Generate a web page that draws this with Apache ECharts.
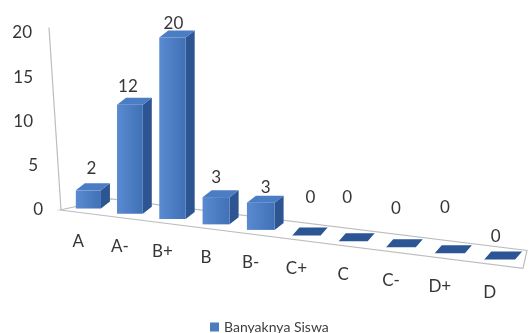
<!DOCTYPE html>
<html>
<head>
<meta charset="utf-8">
<script src="https://cdn.jsdelivr.net/npm/echarts@6/dist/echarts.min.js"></script>
<style>
  html, body { margin: 0; padding: 0; background: #ffffff; }
  #chart { width: 532px; height: 333px; }
</style>
</head>
<body>
<div id="chart"></div>
<script>
// Grade categories and number of students per grade
const categories = ['A', 'A-', 'B+', 'B', 'B-', 'C+', 'C', 'C-', 'D+', 'D'];
const studentCounts = [2, 12, 20, 3, 3, 0, 0, 0, 0, 0];
const seriesName = 'Banyaknya Siswa';
const valueTicks = [0, 5, 10, 15, 20];

// Placement nudges for the value labels, in pixels [dx, dy]
const valueLabelShift = [[0, -2], [-5, 2], [-2, 6], [-3, 0], [2, 5], [1, -18], [-9, -24], [-8, -19], [-8, -26], [-7, -3]];
// Extra right padding of the tick labels, following the slanted axis
const tickPad = { 0: 0, 5: 5, 10: 10, 15: 10, 20: 11 };

const FONT = 'Lato, "Open Sans", sans-serif';
const TEXT = '#363636';
const SLANT = 0.124;      // slope of the floor, going right
const WARP = 0.114;       // perspective widening towards the right
const DEPTH = [9, -7];    // offset of the back faces of standing bars
const FLAT_DEPTH = [7, -8];
const BAR_W = 28;

const COLORS = {
  front: new echarts.graphic.LinearGradient(0, 0, 1, 0, [
    { offset: 0, color: '#5a8bd0' },
    { offset: 1, color: '#4070b6' }
  ]),
  side: '#2d5592',
  top: '#4b7dc4',
  flat: '#2b5595',
  grid: '#bdbdbd'
};

function renderItem(params, api) {
  const cs = params.coordSys;
  const L = cs.x, W = cs.width;
  const warpX = x => { const t = (x - L) / W; return L + W * (t + WARP * t * (t - 1)); };
  const scaleAt = x => { const t = (x - L) / W; return 1 + WARP * (2 * t - 1); };

  const i = api.value(0);
  const v = api.value(1);
  const p0 = api.coord([i, 0]);
  const p1 = api.coord([i, v]);
  const zeroY = p0[1];
  const frontEdge = x => zeroY + SLANT * (x - L) + 2;

  const cx = warpX(p0[0]);
  const hw = BAR_W * scaleAt(p0[0]) / 2;
  const yb = frontEdge(cx) - 6;
  const yt = yb - (p0[1] - p1[1]);
  const xl = cx - hw, xr = cx + hw;

  const children = [];

  if (params.dataIndex === 0) {
    // floor slab
    const fl = L - 8, fr = L + W - 2;
    children.push({
      type: 'polygon',
      shape: { points: [
        [fl, frontEdge(fl) - 1],
        [fr, frontEdge(fr)],
        [fr + 4, frontEdge(fr) - 18],
        [L + 43, frontEdge(L + 43) - 18.5]
      ] },
      style: { fill: '#ffffff', stroke: COLORS.grid, lineWidth: 1.2 }
    });
    // slanted value axis line
    const topY = api.coord([0, 20])[1];
    children.push({
      type: 'line',
      shape: { x1: L - 19, y1: topY - 1, x2: L - 7, y2: zeroY },
      style: { stroke: COLORS.grid, lineWidth: 1.2 }
    });
  }

  if (yb - yt > 0.5) {
    const [dx, dy] = DEPTH;
    children.push({
      type: 'polygon',
      shape: { points: [[xr, yt], [xr + dx, yt + dy], [xr + dx, yb + dy], [xr, yb]] },
      style: { fill: COLORS.side }
    });
    children.push({
      type: 'rect',
      shape: { x: xl, y: yt, width: xr - xl, height: yb - yt },
      style: { fill: COLORS.front }
    });
    children.push({
      type: 'polygon',
      shape: { points: [[xl, yt], [xl + dx, yt + dy], [xr + dx, yt + dy], [xr, yt]] },
      style: { fill: COLORS.top }
    });
  } else {
    const [dx, dy] = FLAT_DEPTH;
    children.push({
      type: 'polygon',
      shape: { points: [[xl, yb], [xl + dx, yb + dy], [xr + dx, yb + dy], [xr, yb]] },
      style: { fill: COLORS.flat }
    });
  }

  const sh = valueLabelShift[i] || [0, 0];
  children.push({
    type: 'text',
    style: {
      text: String(v), x: cx + 3 + sh[0], y: yt - 20 + sh[1],
      align: 'center', verticalAlign: 'middle',
      font: '17px ' + FONT, fill: TEXT
    }
  });

  children.push({
    type: 'text',
    style: {
      text: categories[i], x: cx - 10, y: frontEdge(cx) + 27,
      align: 'center', verticalAlign: 'middle',
      font: '17px ' + FONT, fill: TEXT
    }
  });

  return { type: 'group', children };
}

const rich = {};
valueTicks.forEach(t => {
  rich['r' + t] = { fontSize: 17, fontFamily: FONT, color: TEXT, padding: [0, tickPad[t], 0, 0] };
});

const chart = echarts.init(document.getElementById('chart'), null, { renderer: 'canvas' });
chart.setOption({
  animation: false,
  backgroundColor: '#ffffff',
  grid: { left: 68, right: 7, top: 33, bottom: 123, containLabel: false, outerBoundsMode: 'none' },
  legend: {
    data: [seriesName],
    left: 205, top: 315,
    icon: 'rect', itemWidth: 9, itemHeight: 9, itemGap: 10,
    textStyle: { fontSize: 14, fontFamily: FONT, color: '#404040' }
  },
  xAxis: { type: 'category', data: categories, show: false },
  yAxis: [
    {
      type: 'value', min: 0, max: 20, interval: 5,
      axisLine: { show: false }, axisTick: { show: false }, splitLine: { show: false },
      axisLabel: { margin: 25, formatter: v => '{r' + v + '|' + v + '}', rich }
    },
    { type: 'value', min: 0, max: 19.5, show: false }
  ],
  series: [{
    type: 'custom',
    name: seriesName,
    yAxisIndex: 1,
    clip: false,
    itemStyle: { color: '#4a7dc0' },
    encode: { x: 0, y: 1 },
    data: studentCounts.map((v, i) => [i, v]),
    renderItem
  }]
});
</script>
</body>
</html>
